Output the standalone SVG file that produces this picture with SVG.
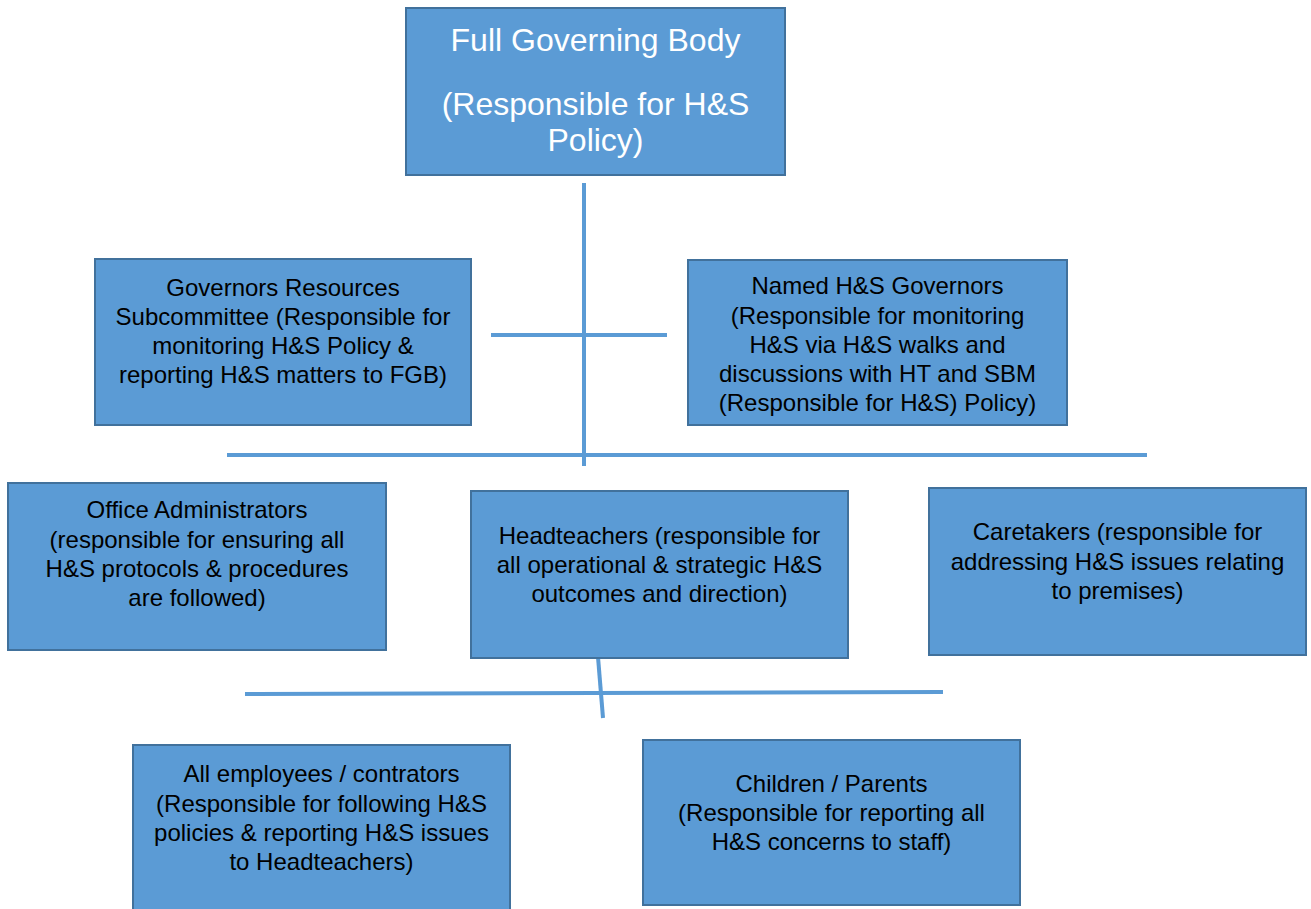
<svg xmlns="http://www.w3.org/2000/svg" width="1311" height="909" viewBox="0 0 1311 909">
<style>
.box{fill:#5B9BD5;stroke:#41719C;stroke-width:2}
.t{font-family:"Liberation Sans",Arial,sans-serif;font-size:24px;fill:#000;text-anchor:middle}
.big{font-family:"Liberation Sans",Arial,sans-serif;font-size:32px;fill:#fff;text-anchor:middle}
.ln{stroke:#5B9BD5;stroke-width:4;fill:none}
</style>
<rect width="1311" height="909" fill="#fff"/>
<g id="connectors">
<line class="ln" x1="584" y1="183" x2="584" y2="466"/>
<line class="ln" x1="491" y1="335" x2="667" y2="335"/>
<line class="ln" x1="227" y1="455" x2="1147" y2="455"/>
<line class="ln" x1="245" y1="694" x2="943" y2="692"/>
<line class="ln" x1="598" y1="657" x2="603" y2="718"/>
</g>
<g id="fgb">
<rect class="box" x="406" y="8" width="379" height="167"/>
<text class="big" x="595.5" y="51">Full Governing Body</text>
<text class="big" x="595.5" y="115">(Responsible for H&amp;S</text>
<text class="big" x="595.5" y="151">Policy)</text>
</g>
<g id="grs">
<rect class="box" x="95" y="259" width="376" height="166"/>
<text class="t" x="283" y="296">Governors Resources</text>
<text class="t" x="283" y="325">Subcommittee (Responsible for</text>
<text class="t" x="283" y="354">monitoring H&amp;S Policy &amp;</text>
<text class="t" x="283" y="383">reporting H&amp;S matters to FGB)</text>
</g>
<g id="named">
<rect class="box" x="688" y="260" width="379" height="165"/>
<text class="t" x="877.5" y="294">Named H&amp;S Governors</text>
<text class="t" x="877.5" y="324">(Responsible for monitoring</text>
<text class="t" x="877.5" y="353">H&amp;S via H&amp;S walks and</text>
<text class="t" x="877.5" y="382">discussions with HT and SBM</text>
<text class="t" x="877.5" y="411">(Responsible for H&amp;S) Policy)</text>
</g>
<g id="office">
<rect class="box" x="8" y="483" width="378" height="167"/>
<text class="t" x="197" y="518">Office Administrators</text>
<text class="t" x="197" y="548">(responsible for ensuring all</text>
<text class="t" x="197" y="577">H&amp;S protocols &amp; procedures</text>
<text class="t" x="197" y="606">are followed)</text>
</g>
<g id="head">
<rect class="box" x="471" y="491" width="377" height="167"/>
<text class="t" x="659.5" y="544">Headteachers (responsible for</text>
<text class="t" x="659.5" y="573">all operational &amp; strategic H&amp;S</text>
<text class="t" x="659.5" y="602">outcomes and direction)</text>
</g>
<g id="care">
<rect class="box" x="929" y="488" width="377" height="167"/>
<text class="t" x="1117.5" y="540">Caretakers (responsible for</text>
<text class="t" x="1117.5" y="570">addressing H&amp;S issues relating</text>
<text class="t" x="1117.5" y="599">to premises)</text>
</g>
<g id="employees">
<rect class="box" x="133" y="745" width="377" height="170"/>
<text class="t" x="321.5" y="782">All employees / contrators</text>
<text class="t" x="321.5" y="812">(Responsible for following H&amp;S</text>
<text class="t" x="321.5" y="841">policies &amp; reporting H&amp;S issues</text>
<text class="t" x="321.5" y="870">to Headteachers)</text>
</g>
<g id="children">
<rect class="box" x="643" y="740" width="377" height="165"/>
<text class="t" x="831.5" y="792">Children / Parents</text>
<text class="t" x="831.5" y="821">(Responsible for reporting all</text>
<text class="t" x="831.5" y="850">H&amp;S concerns to staff)</text>
</g>
</svg>
